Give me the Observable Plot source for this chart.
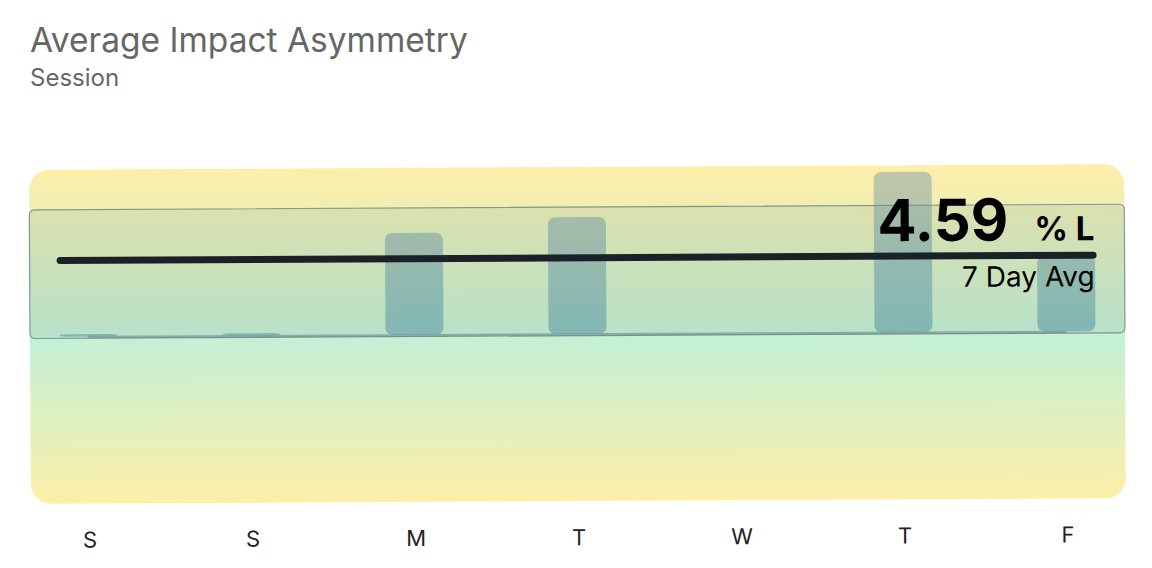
<!DOCTYPE html>
<html>
<head>
<meta charset="utf-8">
<script src="https://cdn.jsdelivr.net/npm/d3@7"></script>
<script src="https://cdn.jsdelivr.net/npm/@observablehq/plot@0.6"></script>
<style>
  html, body { margin: 0; padding: 0; background: #fff; width: 1152px; height: 568px; overflow: hidden; }
  body { position: relative; font-family: Inter, "Noto Sans", sans-serif; }
  #title { position: absolute; left: 30px; top: 24px; font-size: 33.5px; line-height: 1; color: #666; white-space: nowrap; }
  #subtitle { position: absolute; left: 30px; top: 66px; font-size: 24px; line-height: 1; color: #666; white-space: nowrap; }
  #chart { position: absolute; left: 0; top: 110px; }
  #chart svg { transform: rotate(-0.3deg); transform-origin: 50% 50%; }
</style>
</head>
<body>
<div id="title">Average Impact Asymmetry</div>
<div id="subtitle">Session</div>
<div id="chart"></div>
<script>
// ---- data ----
const days = ["Sat", "Sun", "Mon", "Tue", "Wed", "Thu", "Fri"];
const dayLabels = ["S", "S", "M", "T", "W", "T", "F"];
const asymmetry = [0.15, 0.15, 6.1, 7.0, 0, 9.6, 4.5];
const sevenDayAvg = 4.59;
const avgSide = "% L";
const avgLabel = "7 Day Avg";
const normalRange = [-0.1, 7.6];
const yDomain = [-10, 10];

const data = days.map((d, i) => ({day: d, value: asymmetry[i]}));
const labelOf = new Map(days.map((d, i) => [d, dayLabels[i]]));
const lastDay = days[days.length - 1];

const chart = Plot.plot({
  width: 1152,
  height: 458,
  marginTop: 57,
  marginBottom: 67,
  marginLeft: 6,
  marginRight: 3.5,
  style: {fontFamily: "Inter, 'Noto Sans', sans-serif", background: "transparent", overflow: "visible"},
  x: {type: "band", domain: days, padding: 0, label: null, tickSize: 0, tickPadding: 28, tickFormat: d => labelOf.get(d)},
  y: {domain: yDomain, axis: null},
  marks: [
    // background panel
    Plot.rect([yDomain], {y1: d => d[0], y2: d => d[1], fill: "url(#bgGrad)", rx: 20, insetLeft: 24, insetRight: 23.5}),
    // bars
    Plot.barY(data, {x: "day", y: "value", fill: "url(#barGrad)", rx: 7, insetLeft: 52.5, insetRight: 52.5}),
    // zero guide
    Plot.ruleY([0], {stroke: "#869d98", strokeWidth: 2.5, strokeOpacity: 0.75, insetLeft: 81.6, insetRight: 81.6}),
    // normal range box
    Plot.rect([normalRange], {y1: d => d[0], y2: d => d[1], fill: "#4f8196", fillOpacity: 0.13, stroke: "#6c8a8c", strokeOpacity: 0.85, strokeWidth: 1.2, rx: 5, insetLeft: 24, insetRight: 23.5}),
    // 7 day average line
    Plot.ruleY([sevenDayAvg], {stroke: "#1b2227", strokeWidth: 7, strokeLinecap: "round", insetLeft: 54.5, insetRight: 55}),
    // labels
    Plot.text([sevenDayAvg], {x: () => lastDay, y: d => d, text: d => d.toFixed(2), textAnchor: "end", lineAnchor: "bottom", dx: -58, dy: -15, fontSize: 58, fontWeight: 700, fill: "#000"}),
    Plot.text([sevenDayAvg], {x: () => lastDay, y: d => d, text: () => avgSide, textAnchor: "end", lineAnchor: "bottom", dx: 28, dy: -15, fontSize: 33, fontWeight: 700, fill: "#000"}),
    Plot.text([sevenDayAvg], {x: () => lastDay, y: d => d, text: () => avgLabel, textAnchor: "end", lineAnchor: "bottom", dx: 28, dy: 31, fontSize: 28, fill: "#000"})
  ]
});

// gradients
const y = chart.scale("y");
const svg = d3.select(chart);
svg.selectAll("g[aria-label='x-axis tick label'] text, g[aria-label='x-axis tick label']").attr("font-size", 22).attr("fill", "#222");
const defs = svg.insert("defs", ":first-child");
const bg = defs.append("linearGradient").attr("id", "bgGrad").attr("x1", 0).attr("x2", 0).attr("y1", 0).attr("y2", 1);
[[0, "#feeea8"], [0.53, "#c5f0d4"], [1, "#fdefa7"]].forEach(([o, c]) => bg.append("stop").attr("offset", o).attr("stop-color", c));
const bar = defs.append("linearGradient").attr("id", "barGrad").attr("gradientUnits", "userSpaceOnUse")
  .attr("x1", 0).attr("x2", 0).attr("y1", y.apply(10)).attr("y2", y.apply(0));
[[0, "#c2c7a7"], [1, "#8abfba"]].forEach(([o, c]) => bar.append("stop").attr("offset", o).attr("stop-color", c));

document.getElementById("chart").appendChild(chart);
</script>
</body>
</html>
